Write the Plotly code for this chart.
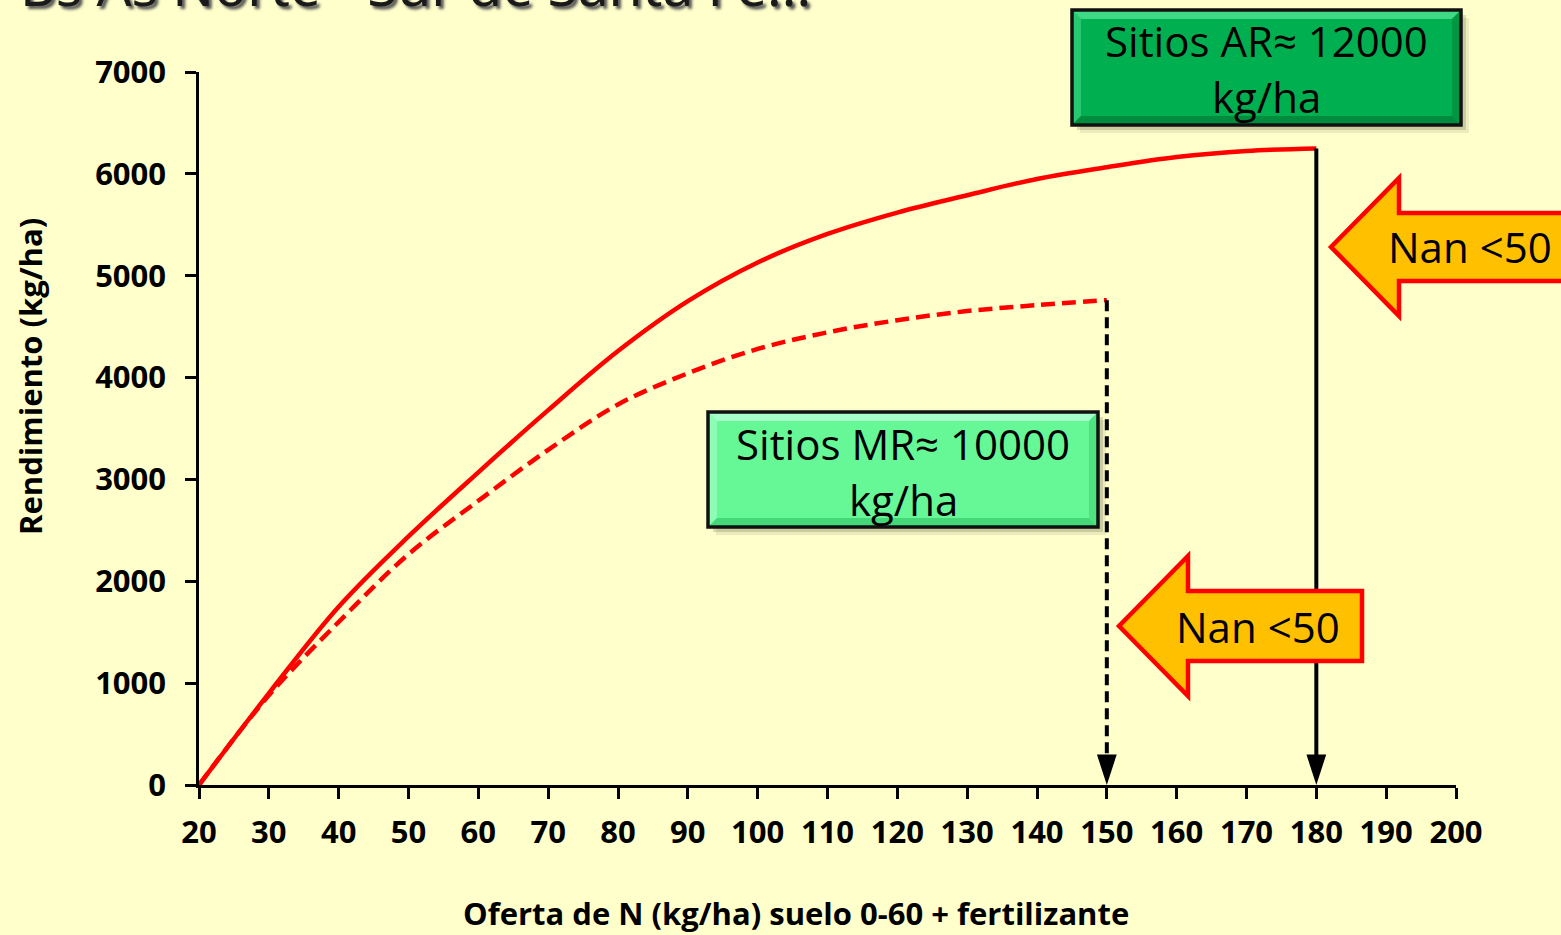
import plotly.graph_objects as go

# Rendimiento vs oferta de N
n_ar = [20, 30, 40, 50, 60, 70, 80, 90, 100, 110, 120, 130, 140, 150, 160, 170, 180]
rend_ar = [0, 900, 1750, 2440, 3070, 3680, 4260, 4750, 5130, 5410, 5620, 5790, 5950, 6065, 6165, 6225, 6250]

n_mr = [20, 30, 40, 50, 60, 70, 80, 90, 100, 110, 120, 130, 140, 150]
rend_mr = [0, 880, 1600, 2265, 2790, 3290, 3736, 4042, 4281, 4444, 4563, 4653, 4711, 4760]

x_ticks = list(range(20, 201, 10))
y_ticks = list(range(0, 7001, 1000))

title_text = "Bs As Norte - Sur de Santa Fe..."
x_title = "Oferta de N (kg/ha) suelo 0-60 + fertilizante"
y_title = "Rendimiento (kg/ha)"
box_ar = ["Sitios AR\u2248 12000", "kg/ha"]
box_mr = ["Sitios MR\u2248 10000", "kg/ha"]
arrow_label = "Nan <50"

W, H = 1561, 935
PL, PR, PT, PB = 199, 1456, 72, 785
BG = "#FFFFCC"
FONT = "Open Sans"


def px(x):
    return (x - PL) / (PR - PL)


def py(y):
    return (PB - y) / (PB - PT)


fig = go.Figure()

# curvas de respuesta
fig.add_trace(go.Scatter(x=n_ar, y=rend_ar, mode="lines",
                         line=dict(color="#FF0000", width=4.5, shape="spline", smoothing=1.0),
                         hoverinfo="skip", showlegend=False))
fig.add_trace(go.Scatter(x=n_mr, y=rend_mr, mode="lines",
                         line=dict(color="#FF0000", width=4.5, dash="14px,7px", shape="spline", smoothing=1.0),
                         hoverinfo="skip", showlegend=False))

# lineas verticales hacia el eje (optimo de N)
head = dict(symbol="arrow", angleref="previous", size=[0, 32], color="black",
            opacity=1, line=dict(width=0))
fig.add_trace(go.Scatter(x=[n_mr[-1], n_mr[-1]], y=[rend_mr[-1], 0], mode="lines+markers",
                         line=dict(color="black", width=4, dash="11px,6px"),
                         marker=head, hoverinfo="skip", showlegend=False))
fig.add_trace(go.Scatter(x=[n_ar[-1], n_ar[-1]], y=[rend_ar[-1], 0], mode="lines+markers",
                         line=dict(color="black", width=4),
                         marker=head, hoverinfo="skip", showlegend=False))

shapes = []
annotations = []


def poly(points):
    return "M " + " L ".join(f"{px(a):.5f},{py(b):.5f}" for a, b in points) + " Z"


def beveled_box(x0, y0, x1, y1, base, light, dark, lines, ycenters):
    # sombra
    for off, alpha in ((8, 0.10), (5, 0.18)):
        shapes.append(dict(type="rect", xref="paper", yref="paper",
                           x0=px(x0 + off), x1=px(x1 + off), y0=py(y0 + off), y1=py(y1 + off),
                           line=dict(width=0), fillcolor=f"rgba(60,60,40,{alpha})", layer="above"))
    shapes.append(dict(type="rect", xref="paper", yref="paper",
                       x0=px(x0), x1=px(x1), y0=py(y0), y1=py(y1),
                       line=dict(width=0), fillcolor=base, layer="above"))
    b = 9
    shapes.append(dict(type="path", xref="paper", yref="paper", layer="above",
                       path=poly([(x0, y0), (x1, y0), (x1 - b, y0 + b), (x0 + b, y0 + b)]),
                       fillcolor=light, line=dict(width=0)))
    shapes.append(dict(type="path", xref="paper", yref="paper", layer="above",
                       path=poly([(x0, y0), (x0 + b, y0 + b), (x0 + b, y1 - b), (x0, y1)]),
                       fillcolor=light, opacity=0.6, line=dict(width=0)))
    shapes.append(dict(type="path", xref="paper", yref="paper", layer="above",
                       path=poly([(x0, y1), (x0 + b, y1 - b), (x1 - b, y1 - b), (x1, y1)]),
                       fillcolor=dark, line=dict(width=0)))
    shapes.append(dict(type="path", xref="paper", yref="paper", layer="above",
                       path=poly([(x1, y0), (x1, y1), (x1 - b, y1 - b), (x1 - b, y0 + b)]),
                       fillcolor=dark, opacity=0.7, line=dict(width=0)))
    shapes.append(dict(type="rect", xref="paper", yref="paper",
                       x0=px(x0), x1=px(x1), y0=py(y0), y1=py(y1),
                       line=dict(width=3.5, color="#111111"), fillcolor="rgba(0,0,0,0)", layer="above"))
    for txt, yc in zip(lines, ycenters):
        annotations.append(dict(xref="paper", yref="paper", x=px((x0 + x1) / 2), y=py(yc),
                                text=txt, showarrow=False, xanchor="center", yanchor="middle",
                                font=dict(family=FONT, size=42, color="black")))


def left_arrow(tip_x, tip_y, head_x, head_half, shaft_half, end_x, text_x):
    pts = [(tip_x, tip_y), (head_x, tip_y - head_half), (head_x, tip_y - shaft_half),
           (end_x, tip_y - shaft_half), (end_x, tip_y + shaft_half), (head_x, tip_y + shaft_half),
           (head_x, tip_y + head_half)]
    shapes.append(dict(type="path", xref="paper", yref="paper", layer="above",
                       path=poly(pts), fillcolor="#FFC000",
                       line=dict(color="#FF0000", width=4.5)))
    annotations.append(dict(xref="paper", yref="paper", x=px(text_x), y=py(tip_y),
                            text=arrow_label, showarrow=False, xanchor="center", yanchor="middle",
                            font=dict(family=FONT, size=42, color="black")))


beveled_box(1072, 10, 1461, 125, "#00B050", "#3FD986", "#008C3C", box_ar, [40, 96])
beveled_box(708, 412, 1098, 527, "#66F896", "#A6FFC8", "#45D878", box_mr, [443, 499])

left_arrow(1331, 247, 1399, 69, 34, 1600, 1470)
left_arrow(1119, 626, 1188, 70, 35, 1362, 1258)

# titulo (parcialmente fuera de la figura)
annotations.append(dict(xref="paper", yref="paper", x=px(18), y=py(24), text=title_text,
                        showarrow=False, xanchor="left", yanchor="bottom",
                        font=dict(family="Noto Sans", size=55, color="#1a1a1a",
                                  shadow="3px 3px 3px #555555")))

# titulos de ejes
annotations.append(dict(xref="paper", yref="paper", x=px(796), y=py(913), text=x_title,
                        showarrow=False, xanchor="center", yanchor="middle",
                        font=dict(family=FONT, size=31, color="black", weight="bold")))
annotations.append(dict(xref="paper", yref="paper", x=px(30), y=py(377), text=y_title,
                        showarrow=False, xanchor="center", yanchor="middle", textangle=-90,
                        font=dict(family=FONT, size=31, color="black", weight="bold")))

fig.update_layout(
    width=W, height=H,
    margin=dict(l=PL, r=W - PR, t=PT, b=H - PB, autoexpand=False),
    paper_bgcolor=BG, plot_bgcolor=BG,
    shapes=shapes, annotations=annotations,
    showlegend=False,
    xaxis=dict(range=[20, 200], tickvals=x_ticks, ticktext=[str(v) for v in x_ticks],
               showgrid=False, zeroline=False, showline=True, linecolor="black", linewidth=2.5,
               ticks="outside", ticklen=11, tickwidth=2.5, tickcolor="black",
               ticklabelstandoff=7,
               tickfont=dict(family=FONT, size=31, color="black", weight="bold")),
    yaxis=dict(range=[0, 7000], tickvals=y_ticks, ticktext=[str(v) for v in y_ticks],
               showgrid=False, zeroline=False, showline=True, linecolor="black", linewidth=2.5,
               ticks="outside", ticklen=11, tickwidth=2.5, tickcolor="black",
               ticklabelstandoff=13,
               tickfont=dict(family=FONT, size=31, color="black", weight="bold")),
)

fig.write_html("out.html")
